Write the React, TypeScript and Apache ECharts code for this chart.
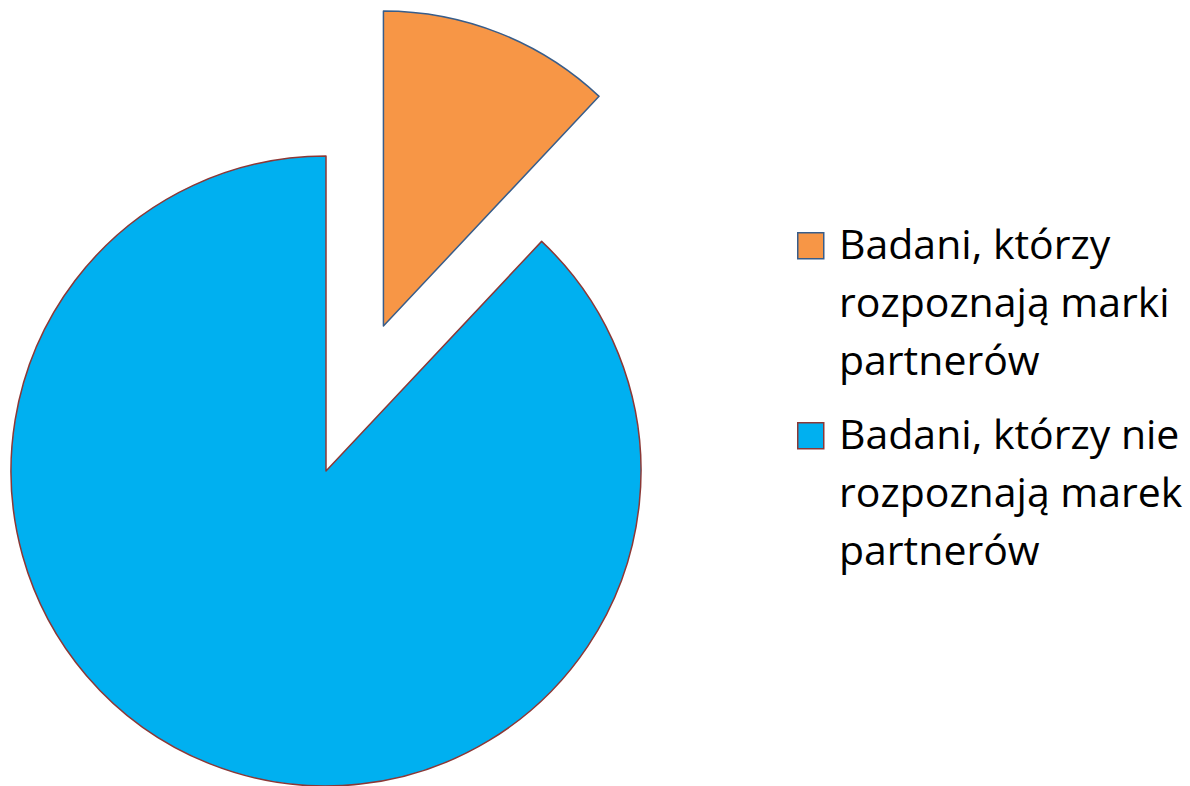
import React, { useEffect, useRef } from "react";
import * as echarts from "echarts";

const categories = [
  "Badani, którzy rozpoznają marki partnerów",
  "Badani, którzy nie rozpoznają marek partnerów",
];
const legendLines = [
  ["Badani, którzy", "rozpoznają marki", "partnerów"],
  ["Badani, którzy nie", "rozpoznają marek", "partnerów"],
];
const values = [12, 88];
const fillColors = ["#F79646", "#00B0F0"];
const borderColors = ["#385D8A", "#8C3836"];

export default function App() {
  const ref = useRef<HTMLDivElement>(null);
  useEffect(() => {
    if (!ref.current) return;
    const chart = echarts.init(ref.current, null, { renderer: "svg" });
    const fontFamily = "'Open Sans', sans-serif";
    const legendGraphics: any[] = [];
    categories.forEach((c, i) => {
      const top = 232 + i * 190;
      legendGraphics.push({
        type: "rect",
        left: 797,
        top: top,
        shape: { width: 26, height: 26 },
        style: { fill: fillColors[i], stroke: borderColors[i], lineWidth: 1.5 },
        silent: true,
      });
      legendGraphics.push({
        type: "text",
        left: 839,
        top: top - 18,
        style: {
          text: legendLines[i].join("\n"),
          fontSize: 41,
          lineHeight: 58,
          fontFamily,
          fill: "#000000",
        },
        silent: true,
      });
    });
    chart.setOption({
      animation: false,
      backgroundColor: "#ffffff",
      graphic: legendGraphics,
      series: [
        {
          type: "pie",
          center: [326, 471],
          radius: 315,
          startAngle: 90,
          clockwise: true,
          selectedMode: "single",
          selectedOffset: 156,
          label: { show: false },
          labelLine: { show: false },
          emphasis: { disabled: true },
          data: categories.map((c, i) => ({
            name: c,
            value: values[i],
            selected: i === 0,
            itemStyle: {
              color: fillColors[i],
              borderColor: borderColors[i],
              borderWidth: 1.5,
            },
          })),
        },
      ],
    });
    return () => chart.dispose();
  }, []);
  return <div ref={ref} style={{ width: 1190, height: 786, position: "absolute", left: 0, top: 0 }} />;
}
